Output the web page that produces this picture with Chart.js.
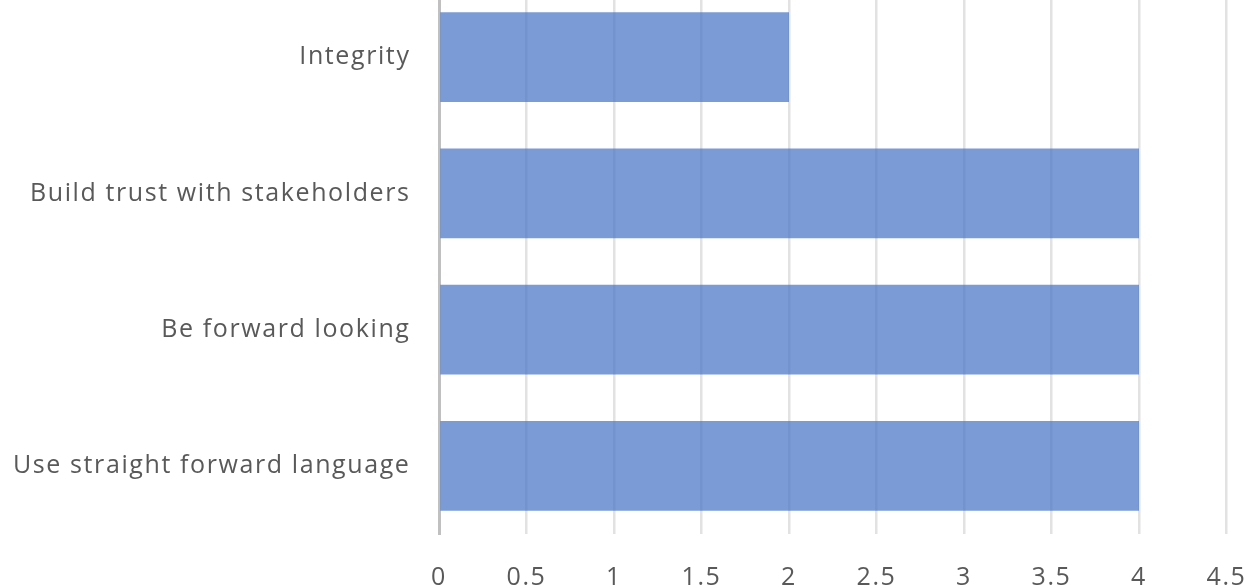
<!DOCTYPE html>
<html>
<head>
<meta charset="utf-8">
<script src="https://cdn.jsdelivr.net/npm/chart.js@4/dist/chart.umd.min.js"></script>
<style>
  html, body { margin: 0; padding: 0; background: #fff; overflow: hidden; }
  #wrap { position: absolute; left: 0; top: -11px; width: 1249px; height: 615px; }
</style>
</head>
<body>
<div id="wrap"><canvas id="chart"></canvas></div>
<script>
const categories = ["Integrity", "Build trust with stakeholders", "Be forward looking", "Use straight forward language"];
const values = [2, 4, 4, 4];
const xMin = 0;
const xMax = 4.5;
const xStep = 0.5;

const labelFont = { family: "Open Sans", size: 25 };

// widen the text a little, the original labels are spaced out more
const spacing = {
    id: "spacing",
    beforeDraw(chart) {
        chart.ctx.letterSpacing = "1.6px";
    }
};

const ctx = document.getElementById("chart").getContext("2d");
const chart = new Chart(ctx, {
    type: "bar",
    data: {
        labels: categories,
        datasets: [{
            data: values,
            backgroundColor: "rgba(68, 114, 196, 0.71)",
            borderWidth: 0,
            categoryPercentage: 0.66,
            barPercentage: 1
        }]
    },
    options: {
        indexAxis: "y",
        responsive: true,
        maintainAspectRatio: false,
        animation: false,
        layout: { padding: { left: 0, right: 22.5, top: 0, bottom: 0 } },
        plugins: {
            legend: { display: false },
            tooltip: { enabled: false }
        },
        scales: {
            x: {
                min: xMin,
                max: xMax,
                afterFit: (scale) => {
                    scale.height = 70;
                    scale.paddingLeft = 0;
                    scale.paddingRight = 0;
                },
                ticks: {
                    stepSize: xStep,
                    color: "#595959",
                    font: labelFont,
                    padding: 29,
                    callback: (v) => String(v)
                },
                grid: { color: "#e2e2e2", lineWidth: 2.5, drawTicks: false },
                border: { display: false }
            },
            y: {
                afterFit: (scale) => {
                    scale.width = 439;
                    scale.paddingTop = 0;
                    scale.paddingBottom = 0;
                },
                ticks: {
                    color: "#595959",
                    font: labelFont,
                    padding: 28.5
                },
                grid: { display: false, drawTicks: false },
                border: { display: true, color: "#c0c0c0", width: 3 }
            }
        }
    },
    plugins: [spacing]
});
</script>
</body>
</html>
